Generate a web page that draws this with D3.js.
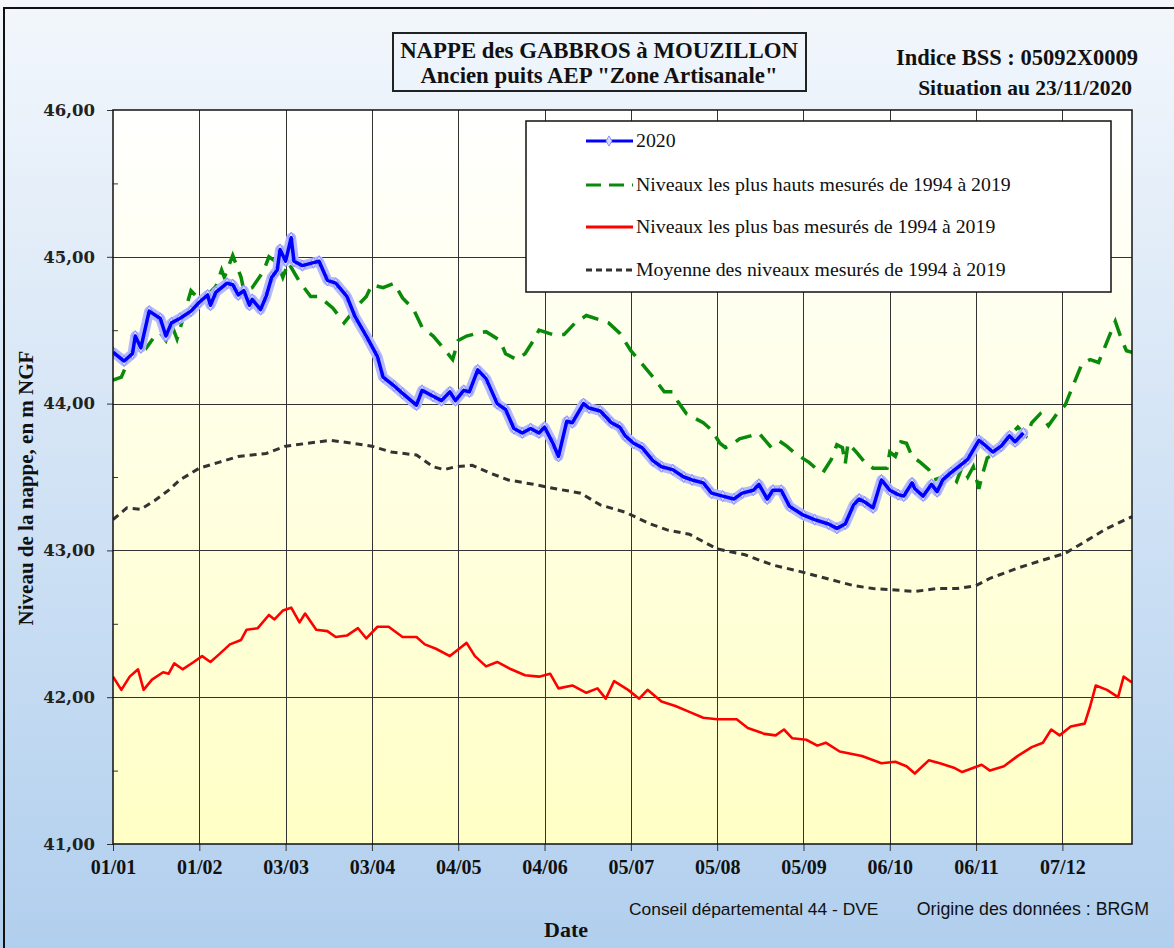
<!DOCTYPE html>
<html>
<head>
<meta charset="utf-8">
<script src="https://cdn.jsdelivr.net/npm/d3@7"></script>
<style>
  body { margin: 0; }
  svg { display: block; }
</style>
</head>
<body>
<svg width="1174" height="948"></svg>
<script>
// axis labels
var tickLabels = ["01/01","01/02","03/03","03/04","04/05","04/06","05/07","05/08","05/09","06/10","06/11","07/12"];
var yTicks = [41, 42, 43, 44, 45, 46];
var yMinor = [41.5, 42.5, 43.5, 44.5, 45.5];

// 2020 (day of year offset from 01/01, level in m NGF)
var blueDays = [0,4,7,8,10,13,17,19,21,24,28,31,34,35,37,41,43,45,47,49,50,53,55,57,59,60,62,64,65,68,72,74,77,80,84,87,91,95,97,101,104,109,111,115,118,121,123,126,128,131,134,138,141,144,147,150,153,155,158,160,163,165,169,171,175,177,179,182,184,187,190,194,197,201,205,208,212,215,219,223,226,230,232,235,237,240,243,248,252,257,260,263,266,268,270,273,276,279,282,284,287,288,291,294,296,298,301,305,307,311,313,316,319,322,324,327];
var blueVals = [44.35,44.29,44.34,44.46,44.38,44.63,44.58,44.46,44.55,44.58,44.63,44.69,44.74,44.67,44.76,44.82,44.81,44.74,44.77,44.67,44.71,44.64,44.73,44.86,44.91,45.05,44.97,45.13,44.97,44.94,44.96,44.97,44.84,44.82,44.73,44.59,44.46,44.32,44.18,44.12,44.07,43.99,44.09,44.05,44.02,44.08,44.02,44.09,44.08,44.23,44.17,44.00,43.96,43.83,43.80,43.83,43.80,43.84,43.73,43.64,43.88,43.87,44.00,43.97,43.95,43.91,43.87,43.84,43.78,43.73,43.70,43.61,43.57,43.55,43.50,43.48,43.46,43.39,43.37,43.35,43.39,43.41,43.45,43.35,43.41,43.41,43.30,43.24,43.21,43.18,43.15,43.18,43.31,43.35,43.33,43.29,43.48,43.41,43.38,43.37,43.46,43.42,43.37,43.45,43.40,43.48,43.53,43.59,43.62,43.75,43.72,43.67,43.71,43.78,43.74,43.80];

// highest levels 1994-2019
var highDays = [0,3,5,7,10,12,15,17,19,21,23,25,28,30,32,35,37,39,40,43,46,47,50,54,56,59,61,63,67,71,74,79,83,86,88,91,93,97,101,104,108,111,115,119,122,124,127,131,134,139,141,145,148,151,153,158,162,166,170,175,178,182,186,190,194,198,201,203,206,209,212,215,218,220,223,225,229,232,236,239,242,245,250,253,255,258,260,262,263,264,267,270,273,278,279,281,283,285,287,290,293,295,298,300,303,305,307,309,311,312,314,316,320,323,325,328,330,333,336,339,342,345,348,351,354,357,360,362,364,366];
var highVals = [44.16,44.18,44.27,44.32,44.43,44.38,44.46,44.48,44.43,44.54,44.44,44.57,44.77,44.73,44.74,44.76,44.80,44.91,44.86,45.01,44.86,44.77,44.79,44.90,45.00,44.96,44.86,44.96,44.83,44.73,44.73,44.65,44.55,44.62,44.67,44.73,44.81,44.79,44.82,44.72,44.64,44.52,44.46,44.37,44.30,44.43,44.46,44.48,44.49,44.43,44.34,44.30,44.34,44.43,44.50,44.47,44.47,44.55,44.60,44.57,44.55,44.48,44.36,44.27,44.18,44.08,44.08,44.01,43.93,43.90,43.87,43.82,43.73,43.70,43.73,43.76,43.78,43.80,43.71,43.75,43.71,43.66,43.60,43.55,43.53,43.62,43.72,43.70,43.59,43.73,43.67,43.60,43.56,43.56,43.67,43.64,43.74,43.73,43.64,43.60,43.55,43.48,43.50,43.53,43.47,43.57,43.50,43.57,43.42,43.50,43.63,43.65,43.72,43.80,43.84,43.78,43.87,43.93,43.85,43.93,43.99,44.13,44.27,44.30,44.28,44.42,44.56,44.45,44.36,44.35];

// lowest levels 1994-2019
var lowDays = [0,3,6,9,11,14,18,20,22,25,29,32,35,38,42,46,48,52,56,58,61,64,67,69,73,77,80,84,88,91,95,99,104,109,112,116,121,125,127,130,134,138,143,148,153,157,160,165,170,174,177,180,185,189,192,197,202,207,212,217,224,228,234,238,241,244,249,253,256,261,269,276,281,285,288,293,297,302,305,312,315,320,325,330,334,337,340,344,349,351,353,357,361,363,366];
var lowVals = [42.14,42.05,42.14,42.19,42.05,42.12,42.17,42.16,42.23,42.19,42.24,42.28,42.24,42.29,42.36,42.39,42.46,42.47,42.56,42.53,42.59,42.61,42.51,42.57,42.46,42.45,42.41,42.42,42.47,42.40,42.48,42.48,42.41,42.41,42.36,42.33,42.28,42.34,42.37,42.28,42.21,42.24,42.19,42.15,42.14,42.16,42.06,42.08,42.03,42.06,41.99,42.11,42.05,41.99,42.05,41.97,41.94,41.90,41.86,41.85,41.85,41.79,41.75,41.74,41.78,41.72,41.71,41.67,41.69,41.63,41.60,41.55,41.56,41.53,41.48,41.57,41.55,41.52,41.49,41.54,41.50,41.53,41.60,41.66,41.69,41.78,41.74,41.80,41.82,41.94,42.08,42.05,42.00,42.14,42.10];

// mean levels 1994-2019
var meanDays = [0,5,10,15,20,24,31,38,45,55,62,70,78,86,93,100,109,115,119,123,129,135,142,151,159,168,175,184,193,199,207,217,227,237,246,256,266,273,281,288,296,303,310,315,325,335,342,350,357,366];
var meanVals = [43.21,43.29,43.28,43.34,43.41,43.48,43.56,43.60,43.64,43.66,43.71,43.73,43.75,43.73,43.71,43.67,43.65,43.57,43.55,43.57,43.58,43.53,43.48,43.45,43.42,43.39,43.31,43.26,43.18,43.14,43.11,43.01,42.97,42.90,42.86,42.81,42.76,42.74,42.73,42.72,42.74,42.74,42.76,42.81,42.88,42.94,42.98,43.07,43.15,43.23];

var svg = d3.select("svg"),
    W = +svg.attr("width"),
    H = +svg.attr("height");

var plot = {left: 113, right: 1132, top: 110, bottom: 844};
var start = new Date(2020, 0, 1);
var parseTick = d3.timeParse("%d/%m/%Y");
var toDate = function(d) { return d3.timeDay.offset(start, d); };
var serif = "'Liberation Serif', 'Times New Roman', serif";
var sans = "'Liberation Sans', Arial, sans-serif";

var x = d3.scaleTime()
  .domain([start, new Date(2021, 0, 1)])
  .range([plot.left, plot.right]);
var y = d3.scaleLinear()
  .domain([41, 46])
  .range([plot.bottom, plot.top]);

// gradients
var defs = svg.append("defs");
var bg = defs.append("linearGradient").attr("id", "bg").attr("x1", 0).attr("y1", 0).attr("x2", 0).attr("y2", 1);
bg.append("stop").attr("offset", "0%").attr("stop-color", "#f3f7fc");
bg.append("stop").attr("offset", "100%").attr("stop-color", "#b1cfee");
var pbg = defs.append("linearGradient").attr("id", "pbg").attr("x1", 0).attr("y1", 0).attr("x2", 0).attr("y2", 1);
pbg.append("stop").attr("offset", "0%").attr("stop-color", "#ffffff");
pbg.append("stop").attr("offset", "100%").attr("stop-color", "#ffffc6");
defs.append("clipPath").attr("id", "clip")
  .append("rect")
    .attr("x", plot.left).attr("y", plot.top)
    .attr("width", plot.right - plot.left).attr("height", plot.bottom - plot.top);

svg.append("rect").attr("width", W).attr("height", H).attr("fill", "url(#bg)");
svg.append("rect")
  .attr("x", 4).attr("y", 8).attr("width", W + 20).attr("height", H + 20)
  .attr("fill", "none").attr("stroke", "#111").attr("stroke-width", 2);

// plot background
svg.append("rect")
  .attr("x", plot.left).attr("y", plot.top)
  .attr("width", plot.right - plot.left).attr("height", plot.bottom - plot.top)
  .attr("fill", "url(#pbg)");

var xTickVals = tickLabels.map(function(t) { return parseTick(t + "/2020"); });

// grid
var grid = svg.append("g").attr("stroke", "#333").attr("stroke-width", 1);
grid.selectAll(".vg").data(xTickVals.slice(1)).enter().append("line")
  .attr("x1", function(d) { return Math.round(x(d)) + 0.5; })
  .attr("x2", function(d) { return Math.round(x(d)) + 0.5; })
  .attr("y1", plot.top).attr("y2", plot.bottom);
grid.selectAll(".hg").data(yTicks.slice(1, -1)).enter().append("line")
  .attr("x1", plot.left).attr("x2", plot.right)
  .attr("y1", function(d) { return Math.round(y(d)) + 0.5; })
  .attr("y2", function(d) { return Math.round(y(d)) + 0.5; });

// axes
var xAxis = d3.axisBottom(x)
  .tickValues(xTickVals)
  .tickFormat(function(d, i) { return tickLabels[i]; })
  .tickSize(7)
  .tickPadding(9);
var gX = svg.append("g")
  .attr("transform", "translate(0," + plot.bottom + ")")
  .call(xAxis);
gX.select(".domain").remove();
gX.selectAll("line").attr("stroke", "#333");
gX.selectAll("text")
  .attr("font-family", serif).attr("font-weight", "bold")
  .attr("font-size", 20).attr("fill", "#111");

var yAxis = d3.axisLeft(y)
  .tickValues(yTicks)
  .tickFormat(function(d) { return d3.format(".2f")(d).replace(".", ","); })
  .tickSize(6)
  .tickPadding(12);
var gY = svg.append("g")
  .attr("transform", "translate(" + plot.left + ",0)")
  .call(yAxis);
gY.select(".domain").remove();
gY.selectAll("line").attr("stroke", "#333");
gY.selectAll("text")
  .attr("font-family", "'DejaVu Serif', serif").attr("font-weight", "bold")
  .attr("font-size", 16.5).attr("fill", "#222");

var gYm = svg.append("g")
  .attr("transform", "translate(" + plot.left + ",0)")
  .call(d3.axisRight(y).tickValues(yMinor).tickSize(5).tickFormat(""));
gYm.select(".domain").remove();
gYm.selectAll("line").attr("stroke", "#333");

// series
var line = d3.line()
  .x(function(d) { return x(d.date); })
  .y(function(d) { return y(d.v); });

function series(days, vals) {
  return days.map(function(d, i) { return {date: toDate(d), v: vals[i]}; });
}

var lines_g = svg.append("g").attr("clip-path", "url(#clip)").attr("fill", "none");

lines_g.append("path")
  .datum(series(lowDays, lowVals))
  .attr("d", line)
  .attr("stroke", "#ff0000").attr("stroke-width", 2.6).attr("stroke-linejoin", "round");

lines_g.append("path")
  .datum(series(meanDays, meanVals))
  .attr("d", line)
  .attr("stroke", "#333").attr("stroke-width", 3).attr("stroke-dasharray", "7,5");

lines_g.append("path")
  .datum(series(highDays, highVals))
  .attr("d", line)
  .attr("stroke", "#0a8a0a").attr("stroke-width", 3.5).attr("stroke-dasharray", "17,10");

var blue = series(blueDays, blueVals);
lines_g.append("path")
  .datum(blue)
  .attr("d", line)
  .attr("stroke", "#b4b8ff").attr("stroke-width", 10).attr("stroke-linejoin", "round").attr("stroke-linecap", "round");
lines_g.selectAll(".mk").data(blue).enter().append("path")
  .attr("transform", function(d) { return "translate(" + x(d.date) + "," + y(d.v) + ")"; })
  .attr("d", d3.symbol(d3.symbolDiamond).size(36))
  .attr("fill", "#d8dbff").attr("stroke", "#8a8fff").attr("stroke-width", 1);
lines_g.append("path")
  .datum(blue)
  .attr("d", line)
  .attr("stroke", "#0000ff").attr("stroke-width", 3.5).attr("stroke-linejoin", "round");

// plot frame
svg.append("rect")
  .attr("x", plot.left).attr("y", plot.top)
  .attr("width", plot.right - plot.left).attr("height", plot.bottom - plot.top)
  .attr("fill", "none").attr("stroke", "#111").attr("stroke-width", 1.5);

// legend
var leg = svg.append("g");
leg.append("rect")
  .attr("x", 526).attr("y", 121).attr("width", 585).attr("height", 171)
  .attr("fill", "#fff").attr("stroke", "#111").attr("stroke-width", 1.5);
var legItems = [
  {label: "2020", color: "#0000ff", dash: null, w: 3},
  {label: "Niveaux les plus hauts mesurés de 1994 à 2019", color: "#0a8a0a", dash: "15,8", w: 3},
  {label: "Niveaux les plus bas mesurés de 1994 à 2019", color: "#ff0000", dash: null, w: 3},
  {label: "Moyenne des niveaux mesurés de 1994 à 2019", color: "#333", dash: "6,4", w: 3}
];
var rowY = [141, 185, 227, 270];
legItems.forEach(function(it, i) {
  leg.append("line")
    .attr("x1", 586).attr("x2", 633).attr("y1", rowY[i]).attr("y2", rowY[i])
    .attr("stroke", it.color).attr("stroke-width", it.w)
    .attr("stroke-dasharray", it.dash);
  if (i === 0) {
    leg.append("path")
      .attr("transform", "translate(609," + rowY[i] + ")")
      .attr("d", d3.symbol(d3.symbolDiamond).size(30))
      .attr("fill", "#d8dbff").attr("stroke", "#8a8fff");
  }
  leg.append("text")
    .attr("x", 636).attr("y", rowY[i] + 6)
    .attr("font-family", serif).attr("font-size", 19.8).attr("fill", "#111")
    .text(it.label);
});

// titles
svg.append("rect")
  .attr("x", 393).attr("y", 33).attr("width", 413).attr("height", 58)
  .attr("fill", "none").attr("stroke", "#222").attr("stroke-width", 2);
svg.append("text").attr("x", 599).attr("y", 58)
  .attr("text-anchor", "middle").attr("font-family", serif).attr("font-weight", "bold")
  .attr("font-size", 22.8).attr("fill", "#111")
  .text("NAPPE des GABBROS à MOUZILLON");
svg.append("text").attr("x", 599).attr("y", 83)
  .attr("text-anchor", "middle").attr("font-family", serif).attr("font-weight", "bold")
  .attr("font-size", 22.8).attr("fill", "#111")
  .text("Ancien puits AEP \"Zone Artisanale\"");

svg.append("text").attr("x", 1138).attr("y", 65)
  .attr("text-anchor", "end").attr("font-family", serif).attr("font-weight", "bold")
  .attr("font-size", 22.5).attr("fill", "#111")
  .text("Indice BSS : 05092X0009");
svg.append("text").attr("x", 1132).attr("y", 95)
  .attr("text-anchor", "end").attr("font-family", serif).attr("font-weight", "bold")
  .attr("font-size", 21.5).attr("fill", "#111")
  .text("Situation au 23/11/2020");

// axis titles
svg.append("text")
  .attr("transform", "translate(33,488) rotate(-90)")
  .attr("text-anchor", "middle").attr("font-family", serif).attr("font-weight", "bold")
  .attr("font-size", 21).attr("fill", "#111")
  .text("Niveau de la nappe, en m NGF");
svg.append("text").attr("x", 566).attr("y", 937)
  .attr("text-anchor", "middle").attr("font-family", serif).attr("font-weight", "bold")
  .attr("font-size", 22).attr("fill", "#111")
  .text("Date");

svg.append("text").attr("x", 629).attr("y", 915)
  .attr("font-family", sans)
  .attr("font-size", 17.4).attr("fill", "#111")
  .text("Conseil départemental 44 - DVE");
svg.append("text").attr("x", 1149).attr("y", 915)
  .attr("text-anchor", "end").attr("font-family", sans)
  .attr("font-size", 17.8).attr("fill", "#111")
  .text("Origine des données : BRGM");
</script>
</body>
</html>
